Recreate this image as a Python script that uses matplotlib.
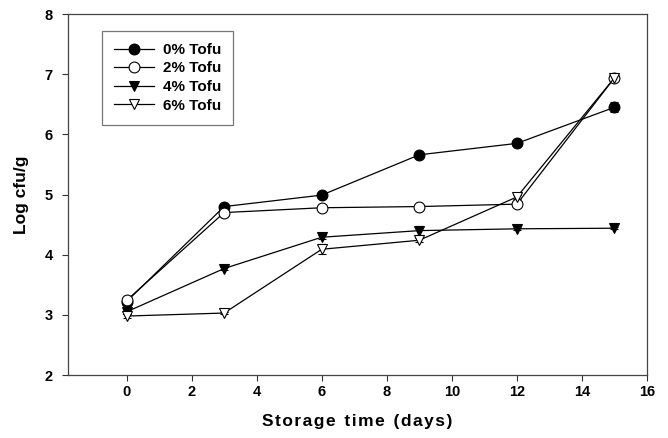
import matplotlib
matplotlib.use("Agg")
import matplotlib.pyplot as plt
from matplotlib.lines import Line2D

plt.rcParams['font.family'] = ['Liberation Sans', 'DejaVu Sans']

days = [0, 3, 6, 9, 12, 15]
labels = ["0% Tofu", "2% Tofu", "4% Tofu", "6% Tofu"]
tofu0 = [3.22, 4.80, 4.99, 5.66, 5.85, 6.45]
tofu2 = [3.24, 4.70, 4.78, 4.80, 4.84, 6.94]
tofu4 = [3.05, 3.77, 4.29, 4.40, 4.43, 4.44]
tofu6 = [2.98, 3.03, 4.09, 4.24, 4.96, 6.94]
err0 = [0.02, 0.03, 0.03, 0.03, 0.03, 0.08]
err2 = [0.02, 0.03, 0.02, 0.02, 0.03, 0.03]
err4 = [0.03, 0.03, 0.03, 0.08, 0.02, 0.02]
err6 = [0.03, 0.02, 0.08, 0.03, 0.03, 0.03]

fig = plt.figure(figsize=(6.68, 4.38), dpi=100)
ax = fig.add_axes([0.1018, 0.1438, 0.8668, 0.8242])

series = [
    (tofu0, err0, 'o', 'black'),
    (tofu2, err2, 'o', 'white'),
    (tofu4, err4, 'v', 'black'),
    (tofu6, err6, 'v', 'white'),
]
handles = []
for (vals, errs, mk, fc), lab in zip(series, labels):
    ax.errorbar(days, vals, yerr=errs, marker=mk, markersize=7.8,
                markerfacecolor=fc, markeredgecolor='black', markeredgewidth=0.8,
                color='black', linewidth=0.9, ecolor='black', elinewidth=0.8,
                capsize=3, capthick=0.8)
    handles.append(Line2D([], [], marker=mk, markersize=7.8, markerfacecolor=fc,
                          markeredgecolor='black', markeredgewidth=0.8,
                          color='black', linewidth=0.9, label=lab))

ax.set_xlim(-1.8, 16)
ax.set_ylim(2, 8)
ax.set_xticks([0, 2, 4, 6, 8, 10, 12, 14, 16])
ax.set_yticks([2, 3, 4, 5, 6, 7, 8])
for lbl in ax.get_xticklabels() + ax.get_yticklabels():
    lbl.set_fontweight('bold')
    lbl.set_fontsize(10.5)
ax.tick_params(direction='out', length=4, width=0.8, color='#333333')
ax.tick_params(axis='x', pad=3)
ax.tick_params(axis='y', pad=7)
for s in ax.spines.values():
    s.set_color('#444444')
    s.set_linewidth(0.9)

ax.set_xlabel("S t o r a g e   t i m e   ( d a y s )".replace("   ", "\u2002").replace(" ", "\u200a"),
              fontsize=12.5, fontweight='bold', labelpad=11)
ax.set_ylabel("Log cfu/g", fontsize=12.5, fontweight='bold', labelpad=11)

leg = ax.legend(handles=handles, loc='upper left', bbox_to_anchor=(0.045, 0.975),
                frameon=True, fancybox=False, edgecolor='#555555', handlelength=2.6,
                borderpad=0.8, labelspacing=0.3, handletextpad=0.6,
                prop={'weight': 'bold', 'size': 11})
leg.get_frame().set_linewidth(0.9)

fig.savefig("out.png", dpi=100)
